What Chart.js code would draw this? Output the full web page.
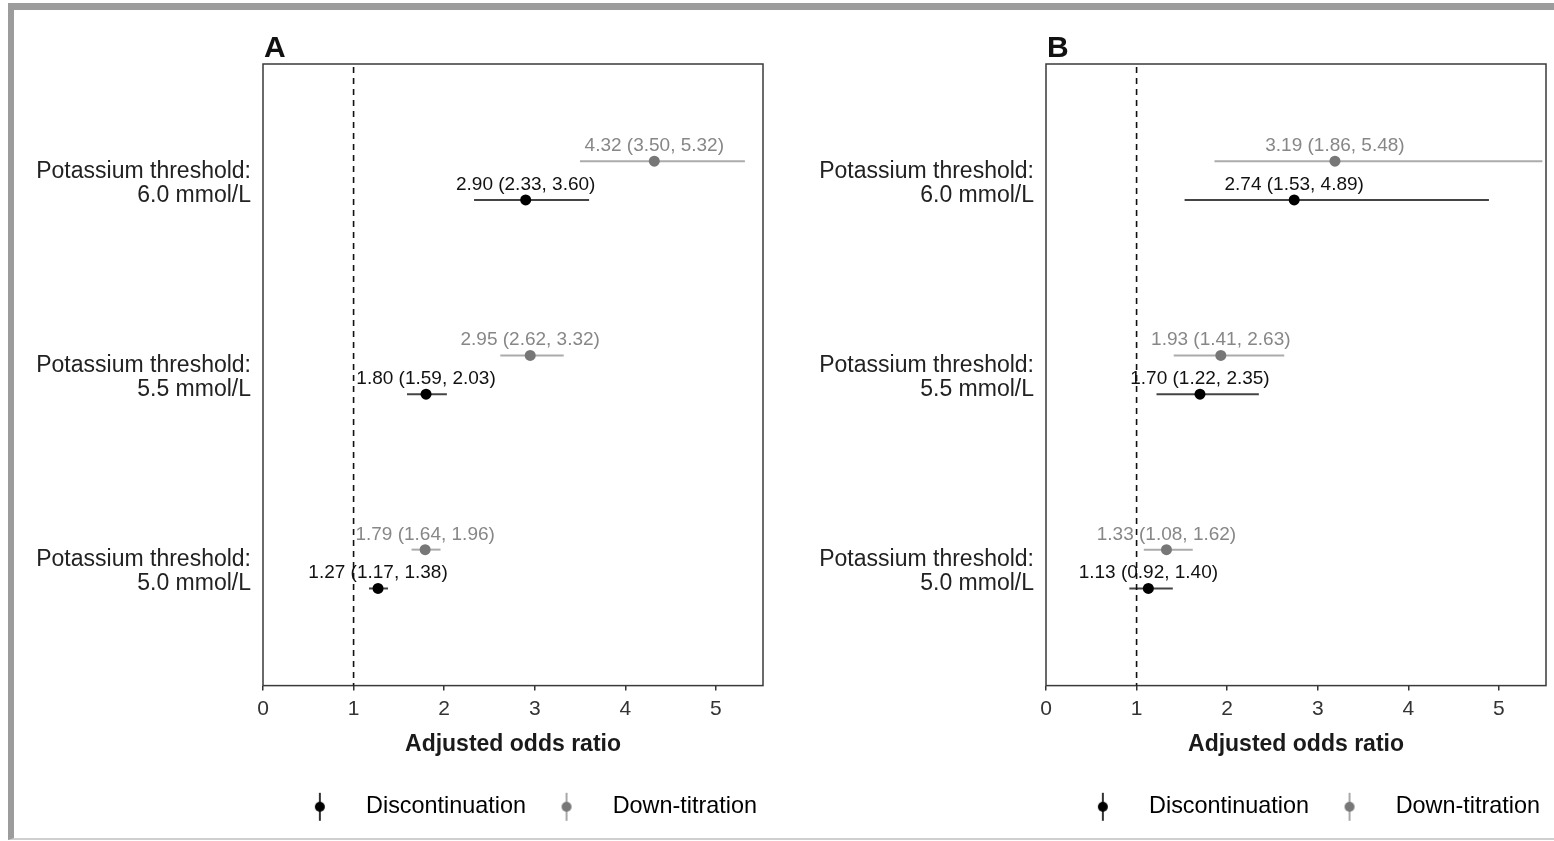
<!DOCTYPE html>
<html>
<head>
<meta charset="utf-8">
<script src="https://cdn.jsdelivr.net/npm/chart.js@4.4.1/dist/chart.umd.min.js"></script>
<style>
  html, body { margin: 0; padding: 0; background: #fff; }
  body { width: 1554px; height: 841px; position: relative; overflow: hidden; }
  #frame {
    position: absolute; left: 8px; top: 3px; width: 1600px; height: 828px;
    border-left: 6px solid #9c9c9c; border-top: 7px solid #9c9c9c; border-bottom: 2px solid #cfcfcf;
  }
  canvas { position: absolute; top: 0; }
  #chartA { left: 0; }
  #chartB { left: 783px; }
</style>
</head>
<body>
<div id="frame"></div>
<canvas id="chartA" width="780" height="841"></canvas>
<canvas id="chartB" width="771" height="841"></canvas>
<script>
// rows, top to bottom
const thresholds = ['6.0 mmol/L', '5.5 mmol/L', '5.0 mmol/L'];
const xTicks = [0, 1, 2, 3, 4, 5];

// panel A
const discA = [2.90, 1.80, 1.27];
const discALo = [2.33, 1.59, 1.17];
const discAHi = [3.60, 2.03, 1.38];
const downA = [4.32, 2.95, 1.79];
const downALo = [3.50, 2.62, 1.64];
const downAHi = [5.32, 3.32, 1.96];

// panel B
const discB = [2.74, 1.70, 1.13];
const discBLo = [1.53, 1.22, 0.92];
const discBHi = [4.89, 2.35, 1.40];
const downB = [3.19, 1.93, 1.33];
const downBLo = [1.86, 1.41, 1.08];
const downBHi = [5.48, 2.63, 1.62];

const FONT = "'Liberation Sans', Arial, Helvetica, sans-serif";
Chart.defaults.font.family = FONT;

const DODGE = 0.1;

function glyph(lineColor, dotColor) {
    const c = document.createElement('canvas');
    c.width = 12;
    c.height = 30;
    const g = c.getContext('2d');
    g.strokeStyle = lineColor;
    g.lineWidth = 2;
    g.beginPath();
    g.moveTo(6, 1);
    g.lineTo(6, 29);
    g.stroke();
    g.fillStyle = dotColor;
    g.beginPath();
    g.arc(6, 15, 5, 0, Math.PI * 2);
    g.fill();
    return c;
}

const glyphDisc = glyph('#333', '#000');
const glyphDown = glyph('#a8a8a8', '#777');

// box, CI whiskers, estimate labels, reference line, panel letter
const forestMarks = {
    id: 'forestMarks',
    beforeDatasetsDraw(chart) {
        const {ctx, chartArea: a, scales: {x}} = chart;
        ctx.save();
        ctx.strokeStyle = '#3a3a3a';
        ctx.lineWidth = 1.5;
        ctx.strokeRect(a.left, a.top, a.right - a.left, a.bottom - a.top);
        chart.data.datasets.forEach((ds, i) => {
            const meta = chart.getDatasetMeta(i);
            ctx.strokeStyle = ds.ciColor;
            ctx.lineWidth = 2;
            meta.data.forEach((pt, j) => {
                ctx.beginPath();
                ctx.moveTo(x.getPixelForValue(ds.lower[j]), pt.y);
                ctx.lineTo(x.getPixelForValue(ds.upper[j]), pt.y);
                ctx.stroke();
            });
        });
        ctx.restore();
    },
    afterDatasetsDraw(chart, args, opts) {
        const {ctx, chartArea: a, scales: {x}} = chart;
        ctx.save();
        ctx.font = '19px ' + FONT;
        ctx.textAlign = 'center';
        ctx.textBaseline = 'alphabetic';
        chart.data.datasets.forEach((ds, i) => {
            const meta = chart.getDatasetMeta(i);
            ctx.fillStyle = ds.labelColor;
            meta.data.forEach((pt, j) => {
                const txt = ds.est[j].toFixed(2) + ' (' + ds.lower[j].toFixed(2) + ', ' + ds.upper[j].toFixed(2) + ')';
                ctx.fillText(txt, pt.x, pt.y - 10);
            });
        });

        const rx = x.getPixelForValue(1);
        ctx.strokeStyle = '#111';
        ctx.lineWidth = 1.6;
        ctx.setLineDash([6, 5]);
        ctx.beginPath();
        ctx.moveTo(rx, a.top + 3);
        ctx.lineTo(rx, a.bottom);
        ctx.stroke();
        ctx.setLineDash([]);

        ctx.fillStyle = '#111';
        ctx.font = 'bold 30px ' + FONT;
        ctx.textAlign = 'left';
        ctx.fillText(opts.letter, a.left + 1, 57);
        ctx.restore();
    }
};

function makePanel(id, letter, disc, discLo, discHi, down, downLo, downHi, padRight) {
    const ctx = document.getElementById(id);
    return new Chart(ctx, {
        type: 'scatter',
        data: {
            datasets: [{
                label: 'Discontinuation',
                data: disc.map((v, i) => ({x: v, y: i + DODGE})),
                est: disc,
                lower: discLo,
                upper: discHi,
                ciColor: '#444',
                labelColor: '#111',
                pointRadius: 5.5,
                pointHoverRadius: 5.5,
                pointBorderWidth: 0,
                backgroundColor: '#000',
                borderColor: '#000'
            }, {
                label: 'Down-titration',
                data: down.map((v, i) => ({x: v, y: i - DODGE})),
                est: down,
                lower: downLo,
                upper: downHi,
                ciColor: '#ababab',
                labelColor: '#878787',
                pointRadius: 5.5,
                pointHoverRadius: 5.5,
                pointBorderWidth: 0,
                backgroundColor: '#777',
                borderColor: '#777'
            }]
        },
        options: {
            responsive: false,
            animation: false,
            events: [],
            layout: {
                padding: {top: 64, left: 0, right: padRight, bottom: 12.5}
            },
            scales: {
                x: {
                    type: 'linear',
                    min: 0,
                    max: 5.52,
                    afterBuildTicks: (scale) => { scale.ticks = xTicks.map(v => ({value: v})); },
                    afterFit: (scale) => { scale.height = 103.5; },
                    border: {display: false},
                    grid: {drawOnChartArea: false, drawTicks: true, tickLength: 5, color: '#333', lineWidth: 1.5},
                    ticks: {color: '#333', padding: 6, font: {size: 21}},
                    title: {
                        display: true,
                        text: 'Adjusted odds ratio',
                        color: '#1a1a1a',
                        font: {size: 23, weight: 'bold'},
                        padding: {top: 0, bottom: 30.7}
                    }
                },
                y: {
                    type: 'linear',
                    reverse: true,
                    min: -0.6,
                    max: 2.6,
                    afterBuildTicks: (scale) => { scale.ticks = thresholds.map((t, i) => ({value: i})); },
                    afterFit: (scale) => { scale.width = 263; },
                    border: {display: false},
                    grid: {display: false, drawTicks: false},
                    ticks: {
                        color: '#222',
                        padding: 12,
                        labelOffset: 3,
                        font: {size: 23, lineHeight: 1.05},
                        callback: (v) => ['Potassium threshold:', thresholds[v]]
                    }
                }
            },
            plugins: {
                tooltip: {enabled: false},
                forestMarks: {letter: letter},
                legend: {
                    position: 'bottom',
                    align: 'end',
                    labels: {
                        usePointStyle: true,
                        pointStyleWidth: 69,
                        padding: 6,
                        color: '#1a1a1a',
                        font: {size: 23.4},
                        generateLabels: () => [
                            {text: 'Discontinuation', pointStyle: glyphDisc, fillStyle: '#000', strokeStyle: '#000', lineWidth: 0, hidden: false, datasetIndex: 0},
                            {text: 'Down-titration', pointStyle: glyphDown, fillStyle: '#777', strokeStyle: '#777', lineWidth: 0, hidden: false, datasetIndex: 1}
                        ]
                    }
                }
            }
        },
        plugins: [forestMarks]
    });
}

makePanel('chartA', 'A', discA, discALo, discAHi, downA, downALo, downAHi, 17);
makePanel('chartB', 'B', discB, discBLo, discBHi, downB, downBLo, downBHi, 8);
</script>
</body>
</html>
